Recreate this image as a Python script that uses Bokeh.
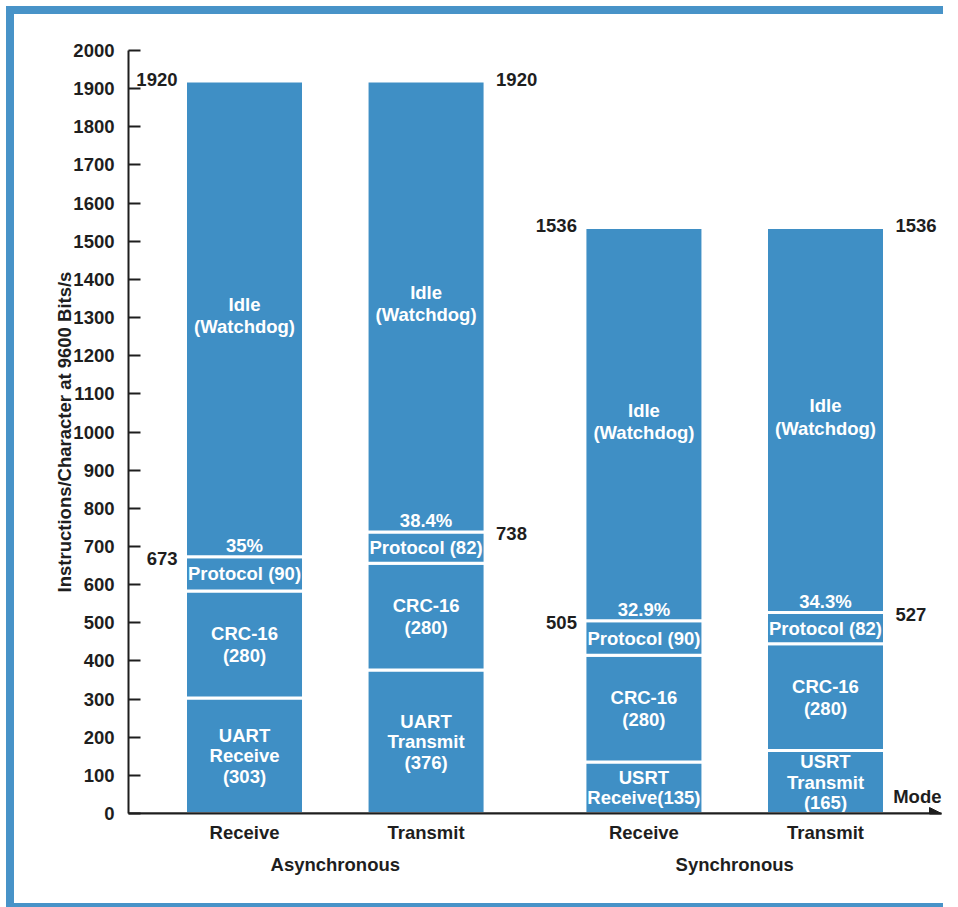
from bokeh.plotting import figure
from bokeh.models import (FactorRange, ColumnDataSource, FixedTicker, Label,
                          Arrow, NormalHead, Spacer)
from bokeh.layouts import column, row
from bokeh.core.properties import value
from bokeh.embed import file_html
from bokeh.resources import INLINE

# ---------------- data ----------------
groups = ["Asynchronous", "Asynchronous", "Synchronous", "Synchronous"]
modes = ["Receive", "Transmit", "Receive", "Transmit"]
hardware = [303, 376, 135, 165]
crc16 = [280, 280, 280, 280]
protocol = [90, 82, 90, 82]
totals = [1920, 1920, 1536, 1536]
hardware_labels = ["UART\nReceive\n(303)", "UART\nTransmit\n(376)",
                   "USRT\nReceive(135)", "USRT\nTransmit\n(165)"]
crc_labels = ["CRC-16\n(280)", "CRC-16\n(280)", "CRC-16\n(280)", "CRC-16\n(280)"]
protocol_labels = ["Protocol (90)", "Protocol (82)", "Protocol (90)", "Protocol (82)"]
idle_labels = ["Idle\n(Watchdog)", "Idle\n(Watchdog)", "Idle\n(Watchdog)", "Idle\n(Watchdog)"]
busy_percent_labels = ["35%", "38.4%", "32.9%", "34.3%"]
y_ticks = list(range(0, 2001, 100))
y_label = "Instructions/Character at 9600 Bits/s"
x_end_label = "Mode"

# ---------------- styles ----------------
BLUE = "#3f8fc5"
FRAME = "#4893c8"
INK = "#1e1e1e"
FONT = "Liberation Sans"
FS = "18.5px"

factors = list(zip(groups, modes))
group_padding = 0.2
x_pad = 0.139
n_groups = len(dict.fromkeys(groups))
x_end = len(factors) + group_padding * (n_groups - 1) + x_pad

MAIN_W = 929
MAIN_H = 889
p = figure(width=MAIN_W, height=MAIN_H,
           x_range=FactorRange(*factors, group_padding=group_padding, factor_padding=0,
                               range_padding=x_pad, range_padding_units="absolute"),
           y_range=(0, 2000),
           output_backend="svg", toolbar_location=None,
           min_border_left=114, min_border_top=36, min_border_bottom=90, min_border_right=2)
p.outline_line_color = None
p.xgrid.grid_line_color = None
p.ygrid.grid_line_color = None
p.background_fill_color = "white"
p.border_fill_color = "white"

# stacked segments
hw_top = hardware
crc_top = [h + c for h, c in zip(hardware, crc16)]
busy_top = [t + pr for t, pr in zip(crc_top, protocol)]
zeros = [0] * len(factors)

src = ColumnDataSource(dict(
    x=factors,
    b0=zeros, t0=hw_top, t1=crc_top, t2=busy_top, t3=totals,
    m0=[(a + b) / 2 for a, b in zip(zeros, hw_top)],
    m1=[(a + b) / 2 for a, b in zip(hw_top, crc_top)],
    m2=[(a + b) / 2 for a, b in zip(crc_top, busy_top)],
    m3=[(a + b) / 2 for a, b in zip(busy_top, totals)],
    hw_lab=hardware_labels, crc_lab=crc_labels, pr_lab=protocol_labels,
    idle_lab=idle_labels, pct_lab=busy_percent_labels,
    busy_txt=[str(v) for v in busy_top], tot_txt=[str(v) for v in totals],
    off=[-67 if m == "Receive" else 70 for m in modes],
    align=["right" if m == "Receive" else "left" for m in modes],
))

BW = 0.65
for lo, hi in [("b0", "t0"), ("t0", "t1"), ("t1", "t2"), ("t2", "t3")]:
    p.vbar(x="x", bottom=lo, top=hi, width=BW, source=src,
           fill_color=BLUE, line_color="white", line_width=3)

common = dict(text_font=value(FONT), text_font_style="bold", text_font_size=FS,
              text_align="center", text_baseline="middle", text_color="white")
p.text(x="x", y="m0", text="hw_lab", source=src, text_line_height=0.97, **common)
p.text(x="x", y="m1", text="crc_lab", source=src, text_line_height=1.06, **common)
p.text(x="x", y="m2", text="pr_lab", source=src, text_line_height=1.06, **common)
p.text(x="x", y="m3", text="idle_lab", source=src, text_line_height=1.05, y_offset=-3, **common)
p.text(x="x", y="t2", text="pct_lab", source=src, y_offset=-11, **common)

side = dict(text_font=value(FONT), text_font_style="bold", text_font_size=FS,
            text_align="align", text_baseline="middle", text_color=INK)
p.text(x="x", y="t2", text="busy_txt", source=src, x_offset="off", y_offset=2, **side)
p.text(x="x", y="t3", text="tot_txt", source=src, x_offset="off", y_offset=-2, **side)

# y axis
ya = p.yaxis[0]
ya.ticker = FixedTicker(ticks=y_ticks)
ya.major_tick_in = 12
ya.major_tick_out = 0
ya.minor_tick_line_color = None
ya.axis_line_width = 2
ya.axis_line_color = INK
ya.major_tick_line_width = 2
ya.major_tick_line_color = INK
ya.major_label_text_font = FONT
ya.major_label_text_font_style = "bold"
ya.major_label_text_font_size = FS
ya.major_label_text_color = INK
ya.major_label_standoff = 14
ya.axis_label = y_label
ya.axis_label_standoff = -5
ya.axis_label_text_font = FONT
ya.axis_label_text_font_style = "bold"
ya.axis_label_text_font_size = FS
ya.axis_label_text_color = INK

# x axis
xa = p.xaxis[0]
xa.major_tick_line_color = None
xa.major_tick_in = 0
xa.major_tick_out = 0
xa.minor_tick_line_color = None
xa.axis_line_width = 2
xa.axis_line_color = INK
xa.separator_line_color = None
xa.major_label_text_font = FONT
xa.major_label_text_font_style = "bold"
xa.major_label_text_font_size = FS
xa.major_label_text_color = INK
xa.major_label_standoff = 8
xa.group_text_font = FONT
xa.group_text_font_style = "bold"
xa.group_text_font_size = FS
xa.group_text_color = INK

p.add_layout(Arrow(x_start=-x_pad, y_start=0, x_end=x_end, y_end=0,
                   line_width=2, line_color=INK,
                   end=NormalHead(size=12, fill_color=INK, line_color=INK)))
p.add_layout(Label(x=x_end, y=0, text=x_end_label, text_align="right", text_baseline="bottom",
                   x_offset=0, y_offset=7, text_font=FONT, text_font_style="bold",
                   text_font_size=FS, text_color=INK))

# page frame (blue border strips around the chart)
bg = {"background-color": FRAME}
layout = column(
    Spacer(width=MAIN_W + 14, height=6),
    row(Spacer(width=6, height=8), Spacer(width=MAIN_W + 8, height=8, styles=bg)),
    row(Spacer(width=6, height=MAIN_H), Spacer(width=8, height=MAIN_H, styles=bg), p),
    row(Spacer(width=6, height=4), Spacer(width=MAIN_W + 8, height=4, styles=bg)),
)

open("out.html", "w").write(file_html(layout, INLINE))
